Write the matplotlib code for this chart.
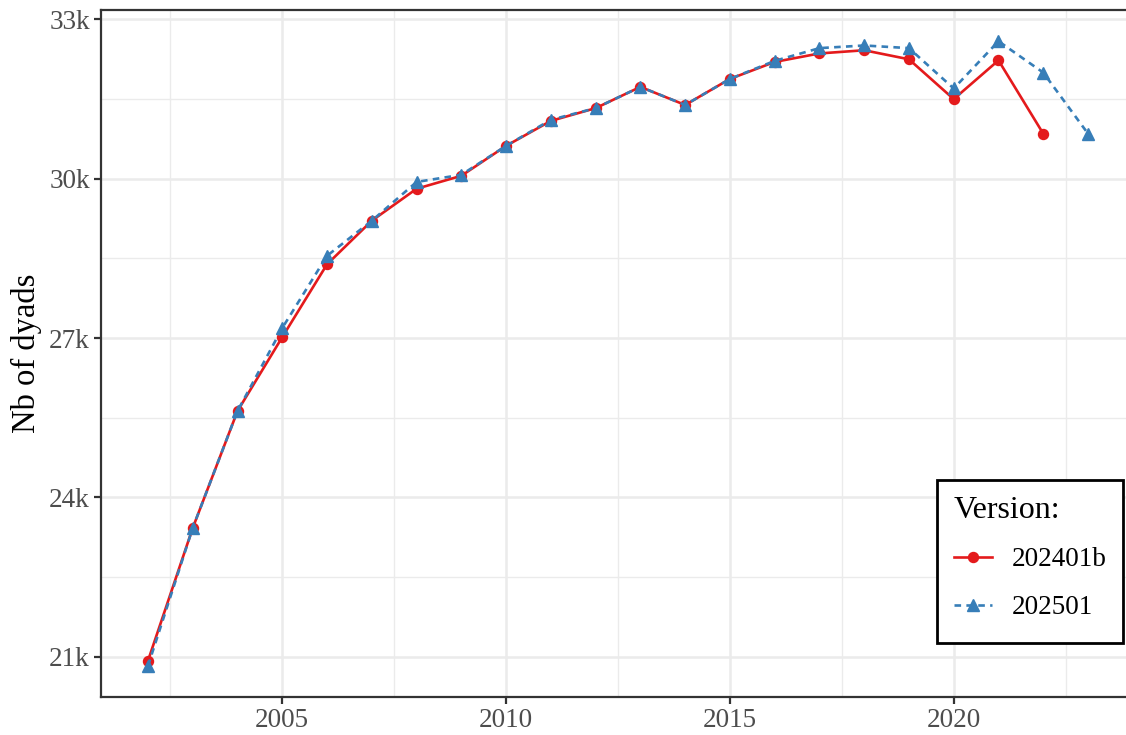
import matplotlib
matplotlib.use("Agg")
import matplotlib.pyplot as plt
from matplotlib.ticker import FixedLocator

years_a = list(range(2002, 2023))
vals_a = [20925, 23426, 25627, 27019, 28390, 29210, 29812, 30056, 30620, 31090,
          31330, 31730, 31390, 31880, 32200, 32360, 32420, 32250, 31500, 32230, 30850]
years_b = list(range(2002, 2024))
vals_b = [20830, 23426, 25627, 27190, 28550, 29210, 29940, 30075, 30620, 31110,
          31330, 31730, 31390, 31880, 32220, 32460, 32510, 32460, 31700, 32590, 32000, 30850]
labels = ["202401b", "202501"]
xticks = [2005, 2010, 2015, 2020]
yticks = [21000, 24000, 27000, 30000, 33000]
ytick_labels = ["21k", "24k", "27k", "30k", "33k"]

plt.rcParams['font.family'] = ['Liberation Serif', 'DejaVu Serif']

fig = plt.figure(figsize=(11.26, 7.35), dpi=100)
ax = fig.add_axes([101/1126, 1-697/735, (1135-101)/1126, (697-10)/735])

ax.plot(years_a, vals_a, color='#E41A1C', lw=1.9, marker='o', ms=7.2, label=labels[0], zorder=3)
ax.plot(years_b, vals_b, color='#377EB8', lw=1.9, ls=(0, (2.5, 2)), marker='^', ms=8.8, label=labels[1], zorder=4)

ax.set_xlim(2000.95, 2024.05)
ax.set_ylim(20242, 33178)
ax.xaxis.set_major_locator(FixedLocator(xticks))
ax.xaxis.set_minor_locator(FixedLocator([2002.5, 2007.5, 2012.5, 2017.5, 2022.5]))
ax.yaxis.set_major_locator(FixedLocator(yticks))
ax.yaxis.set_minor_locator(FixedLocator([22500, 25500, 28500, 31500]))
ax.set_yticklabels(ytick_labels)
ax.grid(which='major', color='#EBEBEB', lw=1.8)
ax.grid(which='minor', color='#EBEBEB', lw=1.0)
ax.set_axisbelow(True)
ax.tick_params(which='major', length=5, width=1.6, color='#333333', labelsize=19.5, labelcolor='#4D4D4D', pad=3)
ax.tick_params(which='minor', length=0)
for s in ax.spines.values():
    s.set_color('#333333')
    s.set_linewidth(1.6)

ax.set_ylabel("Nb of dyads", fontsize=23.5, labelpad=5)

leg = ax.legend(title="Version:", loc='lower right',
                bbox_to_anchor=(1123/1126, (735 - 643)/735), bbox_transform=fig.transFigure,
                fontsize=19.5, title_fontsize=23, frameon=True, fancybox=False, framealpha=1,
                edgecolor='black', handlelength=1.4, handleheight=1.6, borderpad=0.6,
                labelspacing=0.2, handletextpad=0.75, borderaxespad=0)
leg.get_frame().set_linewidth(2.0)
leg._legend_box.align = "left"
leg._legend_box.sep = 13.2
for col in leg._legend_handle_box.get_children():
    col.sep = 9.8
for t in leg.get_texts():
    t.set_y(4)

fig.savefig("out.png", dpi=100)
